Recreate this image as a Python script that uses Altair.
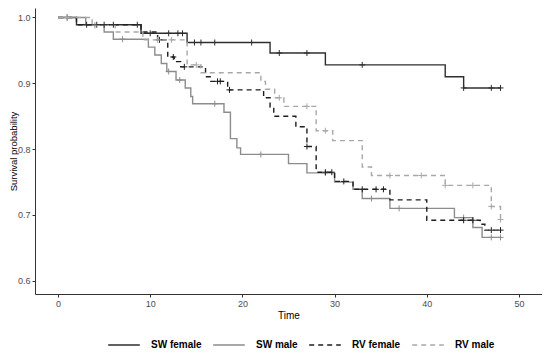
import altair as alt
import pandas as pd

groups = ["SW female", "SW male", "RV female", "RV male"]

# Kaplan-Meier step points (time, survival)
sw_female_t = [0, 2, 9, 14, 23, 29, 42, 44, 48]
sw_female_s = [1.0, 0.989, 0.976, 0.962, 0.946, 0.928, 0.910, 0.893, 0.893]
sw_female_cens = [1, 3.1, 4.2, 5, 6, 8.6, 10, 12, 13, 13.5, 14.8, 15.5, 17, 21, 24, 27, 33, 44, 47, 48]

sw_male_t = [0, 3, 5, 6, 9.8, 10.5, 11.2, 11.8, 12.8, 13.8, 14.4, 14.6, 18.0, 18.7, 19.4, 19.8,
             25, 27, 30, 32, 33, 36, 43, 45, 46, 48]
sw_male_s = [1.0, 0.988, 0.978, 0.967, 0.955, 0.943, 0.930, 0.918, 0.905, 0.893, 0.880, 0.869,
             0.856, 0.816, 0.802, 0.792, 0.778, 0.764, 0.750, 0.739, 0.725, 0.710, 0.696, 0.681,
             0.666, 0.666]
sw_male_cens = [1, 4, 7, 12, 13.2, 17, 22, 29, 34, 37, 44, 47, 48]

rv_female_t = [0, 2, 9, 10.8, 11.9, 12.6, 13.3, 16, 16.5, 18.4, 22.3, 23, 23.4, 25.8, 27, 28,
               30, 32, 36, 40, 45.8, 46.3, 48]
rv_female_s = [1.0, 0.989, 0.978, 0.966, 0.940, 0.933, 0.925, 0.910, 0.903, 0.890, 0.878, 0.864,
               0.850, 0.834, 0.804, 0.765, 0.751, 0.739, 0.723, 0.692, 0.686, 0.677, 0.677]
rv_female_cens = [11, 12.5, 13.7, 17.3, 17.6, 18.6, 27, 29, 29.7, 31, 33, 34.5, 35.3, 44, 45, 47, 48]

rv_male_t = [0, 3.7, 6.2, 9.2, 14, 15.5, 22, 22.5, 23.5, 24.5, 28, 29.8, 33, 34, 42, 47, 48]
rv_male_s = [1.0, 0.988, 0.978, 0.966, 0.928, 0.916, 0.903, 0.891, 0.878, 0.865, 0.828, 0.813,
             0.773, 0.760, 0.745, 0.713, 0.693]
rv_male_cens = [1, 10.8, 12.3, 15, 24, 27, 29, 36, 39.4, 42, 45, 47, 48]

series = [
    ("SW female", sw_female_t, sw_female_s, sw_female_cens),
    ("SW male", sw_male_t, sw_male_s, sw_male_cens),
    ("RV female", rv_female_t, rv_female_s, rv_female_cens),
    ("RV male", rv_male_t, rv_male_s, rv_male_cens),
]

line_rows, cens_rows = [], []
for g, ts, ss, cs in series:
    for t, s in zip(ts, ss):
        line_rows.append({"group": g, "time": t, "surv": s})
    for c in cs:
        idx = max(i for i, t in enumerate(ts) if t <= c)
        cens_rows.append({"group": g, "time": c, "surv": ss[idx]})
line_df = pd.DataFrame(line_rows)
cens_df = pd.DataFrame(cens_rows)

colors = ["#2e2e2e", "#8c8c8c", "#1e1e1e", "#a8a8a8"]
dashes = [[1, 0], [1, 0], [5, 4], [5, 4]]
color_scale = alt.Scale(domain=groups, range=colors)
dash_scale = alt.Scale(domain=groups, range=dashes)

legend = alt.Legend(
    title=None, orient="none", legendX=72, legendY=320, direction="horizontal",
    symbolType="stroke", symbolSize=1000, symbolStrokeWidth=1.4,
    labelFont="Liberation Sans", labelFontSize=10, labelFontWeight="bold",
    labelColor="#000000", labelOffset=10, columnPadding=8, padding=0,
)

x_enc = alt.X("time:Q", scale=alt.Scale(domain=[-2.5, 52.5], nice=False, zero=False),
              axis=alt.Axis(values=[0, 10, 20, 30, 40, 50], title="Time", titlePadding=2))
y_enc = alt.Y("surv:Q", scale=alt.Scale(domain=[0.58, 1.0144], nice=False, zero=False),
              axis=alt.Axis(values=[0.6, 0.7, 0.8, 0.9, 1.0], format=".1f",
                            title="Survival probability", titleX=-19, titleBaseline="alphabetic",
                            titleFontSize=9.5))

lines = alt.Chart(line_df).mark_line(interpolate="step-after", strokeWidth=1.4, clip=True).encode(
    x=x_enc, y=y_enc,
    color=alt.Color("group:N", scale=color_scale, legend=legend, sort=groups),
    strokeDash=alt.StrokeDash("group:N", scale=dash_scale, legend=legend, sort=groups),
)

marks = alt.Chart(cens_df).mark_point(
    shape="M-1,0L1,0M0,-1L0,1", size=36, filled=False, strokeWidth=1, opacity=1
).encode(
    x=alt.X("time:Q"), y=alt.Y("surv:Q"),
    color=alt.Color("group:N", scale=color_scale, legend=None),
)

chart = alt.layer(lines, marks).properties(
    width=507, height=286,
    autosize=alt.AutoSizeParams(type="none"),
    padding={"left": 27, "top": 0, "right": 0, "bottom": 56},
).configure_view(stroke=None).configure_axis(
    grid=False, domainColor="#333333", domainWidth=1, tickColor="#333333", tickSize=3,
    labelColor="#4d4d4d", labelFont="Liberation Sans", labelFontSize=9, labelPadding=2,
    titleFont="Liberation Sans", titleFontSize=10, titleFontWeight="normal", titleColor="#000000",
)

chart.save("out.html", embed_options={"renderer": "svg", "actions": False})
